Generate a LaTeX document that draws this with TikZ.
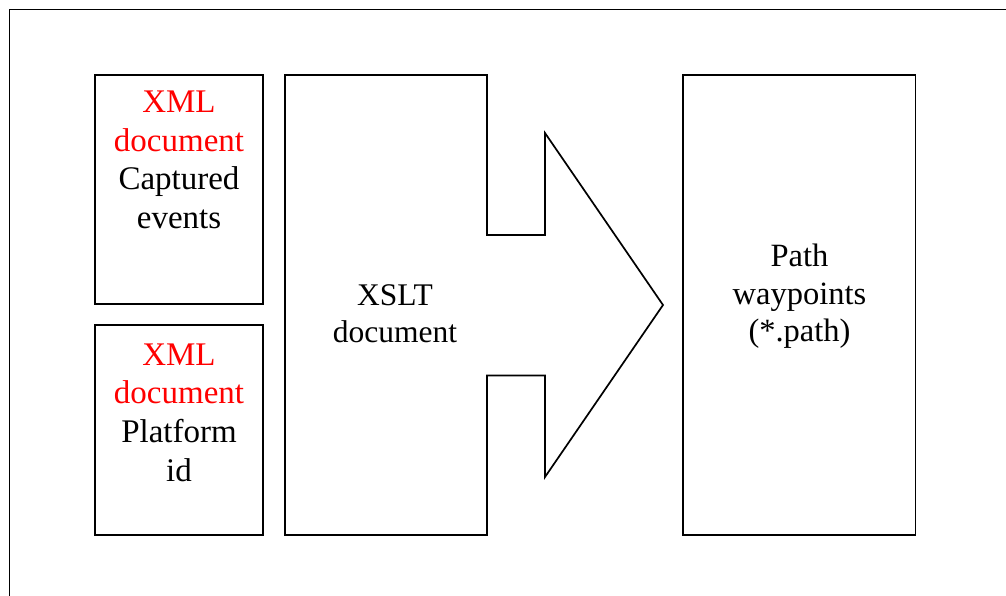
\documentclass[tikz,border=0pt]{standalone}
\usepackage{fontspec}
\setmainfont{Liberation Serif}
\definecolor{xmlred}{RGB}{255,0,0}
\tikzset{
  frame/.style={draw=black, line width=1.8pt},
  panel/.style={draw=black, line width=1.7pt},
  label/.style={align=center, anchor=base, inner sep=0pt,
    font=\fontsize{33}{38.4}\selectfont},
}
\begin{document}
\begin{tikzpicture}[x=1pt,y=-1pt]
\useasboundingbox (0,0) rectangle (1006,595);
% outer frame, running off the right and bottom edges
\draw[frame] (9.5,600) -- (9.5,9.5) -- (1012,9.5);

% source documents
\draw[panel] (95,75) rectangle (263,304);
\draw[panel] (95,325) rectangle (263,535);
% labels are placed by the baseline of their last line
\node[label] (capt) at (179,228)
  {\textcolor{xmlred}{XML}\\\textcolor{xmlred}{document}\\Captured\\events};
\node[label, font=\fontsize{33}{38.9}\selectfont] (plat) at (179,481.7)
  {\textcolor{xmlred}{XML}\\\textcolor{xmlred}{document}\\Platform\\id};

% XSLT block arrow
\draw[panel, line join=miter] (285,75) -- (487,75) -- (487,235) -- (545,235)
  -- (545,133) -- (663,305) -- (545,477) -- (545,375.5) -- (487,375.5)
  -- (487,535) -- (285,535) -- cycle;
\node[label, font=\fontsize{31.5}{37}\selectfont] (xslt) at (395,342)
  {XSLT\\document};

% output
\draw[panel] (683,75) rectangle (915.5,535);
\node[label, font=\fontsize{32.5}{37.5}\selectfont] (path) at (799.5,341.7)
  {Path\\waypoints\\(*.path)};
\end{tikzpicture}
\end{document}
